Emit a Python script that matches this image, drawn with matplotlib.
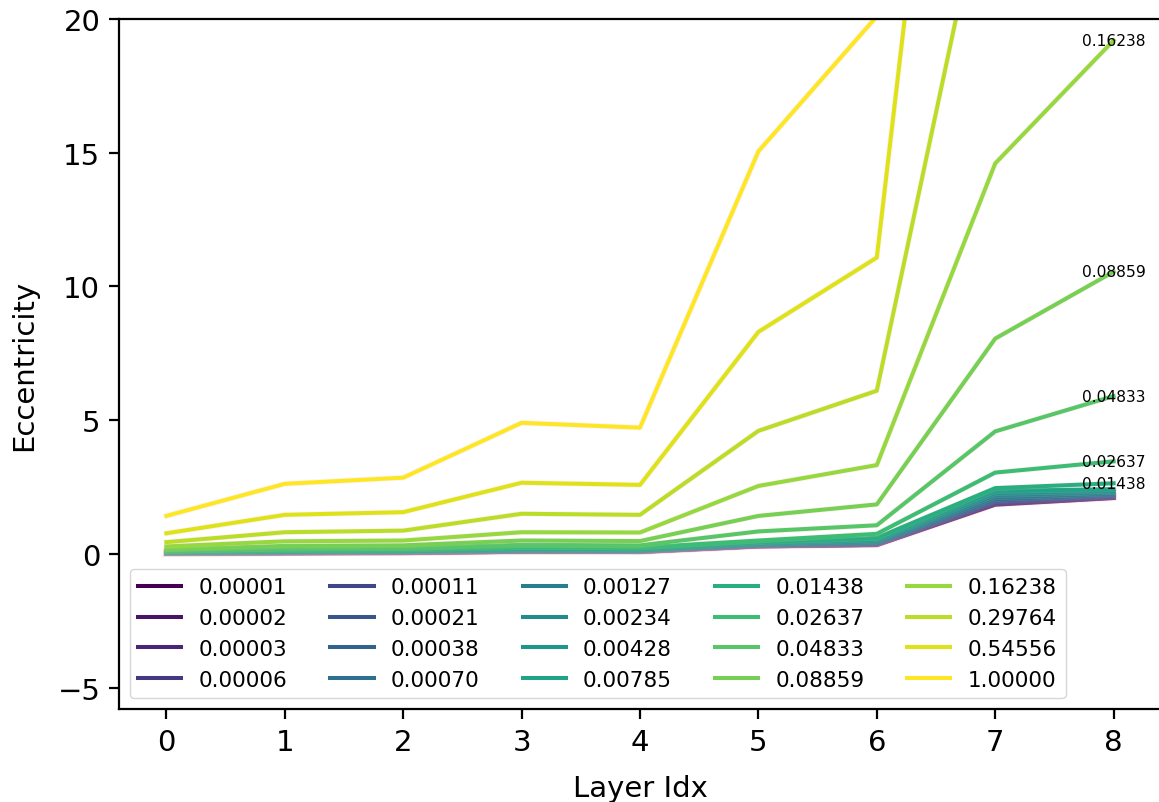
import matplotlib
matplotlib.use("Agg")
from matplotlib import pyplot as plt
import numpy as np

# --- DATOS ---
capas = [0, 1, 2, 3, 4, 5, 6, 7, 8]

etiquetas = ["0.00001", "0.00002", "0.00003", "0.00006", "0.00011",
             "0.00021", "0.00038", "0.00070", "0.00127", "0.00234",
             "0.00428", "0.00785", "0.01438", "0.02637", "0.04833",
             "0.08859", "0.16238", "0.29764", "0.54556", "1.00000"]

# excentricidad por capa (una lista por serie)
e_00001 = [0.00, 0.02, 0.03, 0.08, 0.07, 0.28, 0.33, 1.84, 2.09]
e_00002 = [0.00, 0.02, 0.04, 0.08, 0.08, 0.28, 0.34, 1.86, 2.10]
e_00003 = [0.01, 0.03, 0.04, 0.08, 0.08, 0.29, 0.34, 1.87, 2.11]
e_00006 = [0.01, 0.03, 0.04, 0.09, 0.08, 0.29, 0.35, 1.89, 2.12]
e_00011 = [0.01, 0.03, 0.05, 0.09, 0.09, 0.30, 0.36, 1.92, 2.14]
e_00021 = [0.02, 0.04, 0.05, 0.10, 0.09, 0.30, 0.37, 1.96, 2.16]
e_00038 = [0.02, 0.04, 0.06, 0.10, 0.10, 0.31, 0.38, 2.00, 2.19]
e_00070 = [0.02, 0.05, 0.06, 0.11, 0.10, 0.32, 0.40, 2.05, 2.22]
e_00127 = [0.03, 0.05, 0.07, 0.12, 0.11, 0.33, 0.42, 2.12, 2.26]
e_00234 = [0.03, 0.06, 0.08, 0.13, 0.12, 0.35, 0.45, 2.20, 2.31]
e_00428 = [0.04, 0.07, 0.09, 0.14, 0.13, 0.37, 0.49, 2.28, 2.36]
e_00785 = [0.05, 0.08, 0.10, 0.16, 0.15, 0.40, 0.54, 2.36, 2.42]
e_01438 = [0.06, 0.10, 0.12, 0.19, 0.18, 0.44, 0.60, 2.46, 2.64]
e_02637 = [0.08, 0.14, 0.16, 0.25, 0.24, 0.50, 0.75, 3.04, 3.46]
e_04833 = [0.11, 0.20, 0.22, 0.34, 0.32, 0.84, 1.07, 4.58, 5.90]
e_08859 = [0.17, 0.30, 0.32, 0.50, 0.48, 1.42, 1.85, 8.05, 10.55]
e_16238 = [0.28, 0.47, 0.50, 0.81, 0.80, 2.54, 3.32, 14.60, 19.20]
e_29764 = [0.44, 0.81, 0.87, 1.50, 1.46, 4.60, 6.10, 26.90, 35.00]
e_54556 = [0.77, 1.46, 1.56, 2.66, 2.58, 8.30, 11.08, 49.00, 64.00]
e_100000 = [1.42, 2.62, 2.85, 4.90, 4.72, 15.05, 20.10, 90.00, 117.00]

series = [e_00001, e_00002, e_00003, e_00006, e_00011, e_00021, e_00038,
          e_00070, e_00127, e_00234, e_00428, e_00785, e_01438, e_02637,
          e_04833, e_08859, e_16238, e_29764, e_54556, e_100000]

# series que llevan etiqueta al final
idx_anotadas = [12, 13, 14, 15, 16, 17, 18, 19]

# --- VISUALIZACIÓN ---
fig = plt.figure(figsize=(11.59, 8.03), dpi=100)
ax = fig.add_axes([0.1027, 0.1158, 0.899, 0.8593])

colores = plt.cm.viridis(np.linspace(0, 1, len(series)))

for i, ys in enumerate(series):
    # halo rosado muy suave (banda de dispersion)
    ax.plot(capas, ys, color='pink', linewidth=4.2, alpha=0.18)
    ax.plot(capas, ys, color=colores[i], linewidth=2.9, label=etiquetas[i])

for i in idx_anotadas:
    ax.annotate(etiquetas[i], (capas[-1], series[i][-1]),
                ha='center', va='center', fontsize=11.2)

ax.set_xlim(-0.4, 8.4)
ax.set_ylim(-5.8, 20)
ax.set_xticks(capas)
ax.set_yticks([-5, 0, 5, 10, 15, 20])
ax.set_xlabel('Layer Idx', fontsize=21, labelpad=13)
ax.set_ylabel('Eccentricity', fontsize=21, labelpad=14)
ax.tick_params(labelsize=21, length=7, width=1.6, pad=6.5)
for sp in ax.spines.values():
    sp.set_linewidth(1.6)

leg = ax.legend(ncol=5, loc='lower left', fontsize=15.5)
for lh in leg.get_lines():
    lh.set_linewidth(2.9)

fig.savefig('out.png', dpi=100)
